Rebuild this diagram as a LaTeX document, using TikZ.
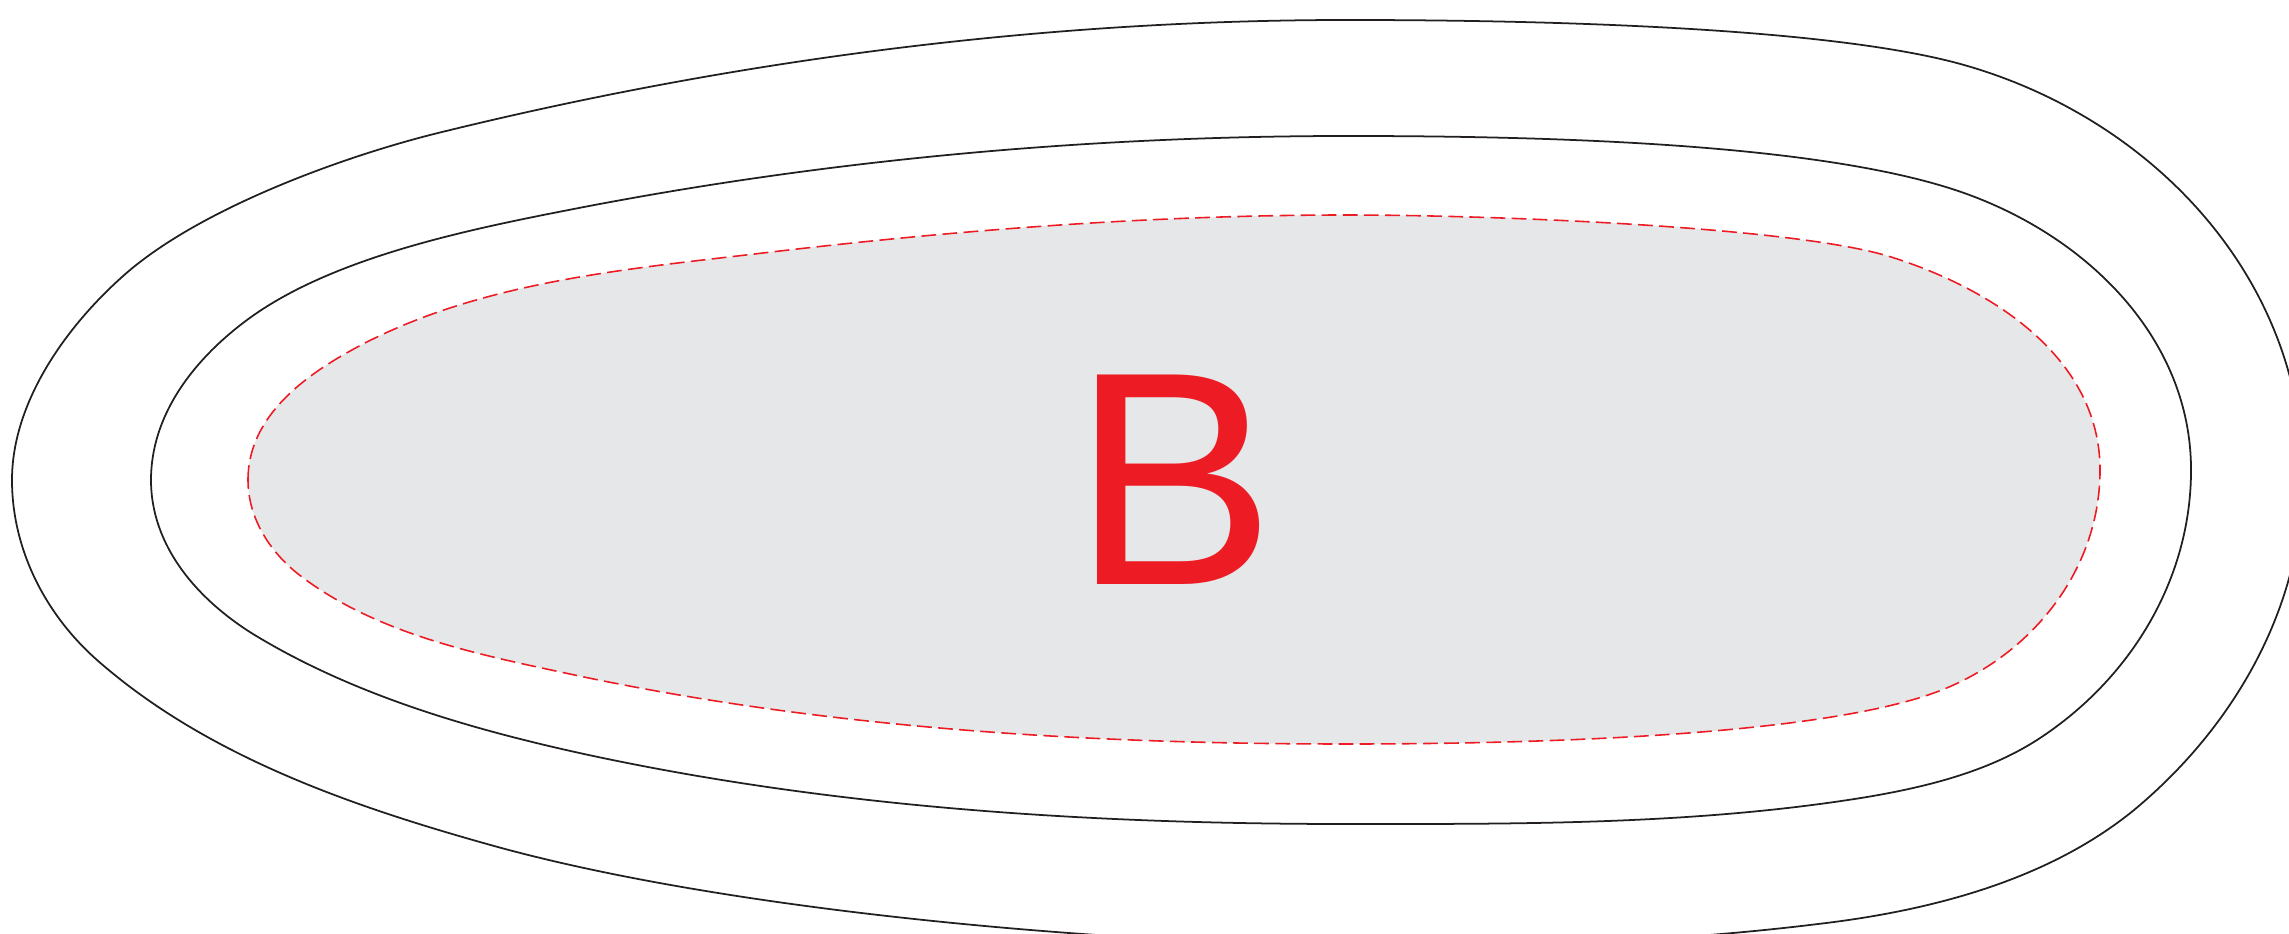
\documentclass[tikz,border=0pt]{standalone}
\usepackage{fontspec}
\newfontfamily\labelfont{Liberation Sans}
\definecolor{ink}{HTML}{231F20}
\definecolor{zonered}{HTML}{ED1C24}
\definecolor{zonefill}{HTML}{E6E7E8}
\tikzset{
  contour/.style={draw=ink, line width=0.5pt},
  zone/.style={draw=zonered, fill=zonefill, line width=0.45pt, dash pattern=on 4.2pt off 1.8pt},
  zonelabel/.style={text=zonered, inner sep=0pt, font=\labelfont\fontsize{86.6}{90}\selectfont}
}
\begin{document}
\begin{tikzpicture}[x={(0.01cm,0)}, y={(0,-0.01cm)}]
\useasboundingbox (0,0) rectangle (2289,934);
\clip (0,0) rectangle (2289,934);
% outer contour
\draw[contour] (12,480) .. controls (12,403) and (65,328) .. (122,277)
  .. controls (196,210) and (341,157) .. (438,133)
  .. controls (734,60) and (1042,20) .. (1347,20)
  .. controls (1497,20) and (1820,24) .. (1964,65)
  .. controls (2154,119) and (2303,279) .. (2303,477)
  .. controls (2303,607) and (2234,727) .. (2134,810)
  .. controls (2047,881) and (1929,911) .. (1818,924)
  .. controls (1680,941) and (1539,946) .. (1400,946)
  .. controls (1120,946) and (727,912) .. (487,844)
  .. controls (348,805) and (205,755) .. (97,660)
  .. controls (45,614) and (12,549) .. cycle;
% middle contour
\draw[contour] (151,480) .. controls (151,416) and (192,362) .. (243,323)
  .. controls (330,256) and (476,228) .. (584,207)
  .. controls (834,159) and (1092,136) .. (1347,136)
  .. controls (1547,136) and (1823,143) .. (1964,193)
  .. controls (2088,237) and (2191,339) .. (2191,470)
  .. controls (2191,580) and (2130,680) .. (2037,740)
  .. controls (1987,772) and (1926,787) .. (1867,797)
  .. controls (1696,825) and (1520,824) .. (1347,824)
  .. controls (1092,824) and (833,808) .. (584,754)
  .. controls (470,729) and (353,695) .. (253,634)
  .. controls (197,599) and (151,546) .. cycle;
% inner dashed zone
\draw[zone] (248,480) .. controls (248,415) and (307,373) .. (365,343)
  .. controls (486,281) and (628,269) .. (763,253)
  .. controls (957,230) and (1152,215) .. (1347,215)
  .. controls (1497,215) and (1796,227) .. (1891,257)
  .. controls (1996,290) and (2100,360) .. (2100,470)
  .. controls (2100,566) and (2037,649) .. (1949,687)
  .. controls (1839,735) and (1547,744) .. (1347,744)
  .. controls (1092,744) and (834,729) .. (584,677)
  .. controls (486,656) and (382,637) .. (302,577)
  .. controls (271,554) and (248,519) .. cycle;
\node[zonelabel] (B) at (1174.5,480) {B};
\end{tikzpicture}
\end{document}
